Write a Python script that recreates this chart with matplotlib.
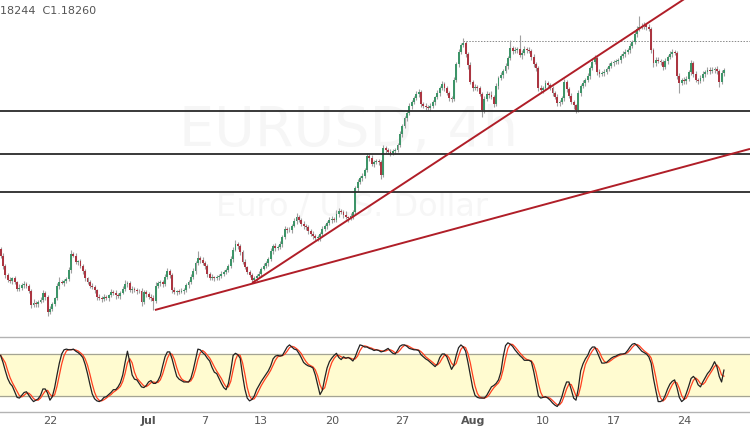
import numpy as np
import matplotlib
matplotlib.use('Agg')
import matplotlib.pyplot as plt
import pandas as pd

# ---- data (EURUSD 4h bars) ----
close = [
    1.1324, 1.1297, 1.1273, 1.1259, 1.1256, 1.1264, 1.1254, 1.1235, 1.1237, 1.1246, 1.1248, 1.1243,
    1.1229, 1.1192, 1.1197, 1.1194, 1.1200, 1.1205, 1.1224, 1.1213, 1.1173, 1.1181, 1.1194, 1.1210,
    1.1243, 1.1254, 1.1252, 1.1256, 1.1262, 1.1286, 1.1329, 1.1324, 1.1308, 1.1310, 1.1297, 1.1283,
    1.1264, 1.1254, 1.1243, 1.1240, 1.1232, 1.1213, 1.1210, 1.1208, 1.1213, 1.1210, 1.1218, 1.1227,
    1.1224, 1.1218, 1.1216, 1.1224, 1.1235, 1.1248, 1.1251, 1.1232, 1.1235, 1.1232, 1.1229, 1.1229,
    1.1200, 1.1227, 1.1221, 1.1213, 1.1210, 1.1202, 1.1243, 1.1251, 1.1254, 1.1248, 1.1267, 1.1283,
    1.1273, 1.1232, 1.1227, 1.1229, 1.1227, 1.1229, 1.1232, 1.1246, 1.1254, 1.1267, 1.1283, 1.1305,
    1.1318, 1.1313, 1.1305, 1.1297, 1.1275, 1.1264, 1.1267, 1.1264, 1.1267, 1.1270, 1.1275, 1.1281,
    1.1286, 1.1297, 1.1316, 1.1340, 1.1356, 1.1351, 1.1335, 1.1308, 1.1294, 1.1281, 1.1273, 1.1259,
    1.1264, 1.1270, 1.1275, 1.1289, 1.1297, 1.1305, 1.1316, 1.1337, 1.1351, 1.1345, 1.1348, 1.1356,
    1.1375, 1.1397, 1.1395, 1.1394, 1.1405, 1.1418, 1.1429, 1.1421, 1.1410, 1.1405, 1.1402, 1.1391,
    1.1383, 1.1378, 1.1372, 1.1375, 1.1383, 1.1397, 1.1405, 1.1413, 1.1421, 1.1424, 1.1421, 1.1437,
    1.1445, 1.1443, 1.1435, 1.1429, 1.1426, 1.1432, 1.1443, 1.1507, 1.1524, 1.1534, 1.1540, 1.1556,
    1.1594, 1.1588, 1.1572, 1.1578, 1.1580, 1.1578, 1.1543, 1.1615, 1.1610, 1.1605, 1.1602, 1.1607,
    1.1610, 1.1623, 1.1653, 1.1675, 1.1696, 1.1710, 1.1729, 1.1740, 1.1750, 1.1761, 1.1767, 1.1734,
    1.1729, 1.1726, 1.1723, 1.1729, 1.1740, 1.1753, 1.1764, 1.1777, 1.1788, 1.1777, 1.1764, 1.1750,
    1.1748, 1.1799, 1.1842, 1.1875, 1.1893, 1.1899, 1.1869, 1.1839, 1.1794, 1.1777, 1.1780, 1.1777,
    1.1761, 1.1718, 1.1748, 1.1761, 1.1758, 1.1753, 1.1734, 1.1783, 1.1804, 1.1812, 1.1823, 1.1837,
    1.1858, 1.1885, 1.1877, 1.1880, 1.1883, 1.1866, 1.1872, 1.1883, 1.1880, 1.1877, 1.1861, 1.1842,
    1.1831, 1.1777, 1.1772, 1.1777, 1.1791, 1.1785, 1.1777, 1.1764, 1.1753, 1.1737, 1.1740, 1.1750,
    1.1794, 1.1775, 1.1756, 1.1740, 1.1731, 1.1718, 1.1764, 1.1783, 1.1791, 1.1799, 1.1810, 1.1831,
    1.1848, 1.1858, 1.1821, 1.1815, 1.1818, 1.1821, 1.1829, 1.1837, 1.1845, 1.1848, 1.1850, 1.1853,
    1.1864, 1.1869, 1.1875, 1.1880, 1.1891, 1.1902, 1.1923, 1.1937, 1.1942, 1.1945, 1.1947, 1.1942,
    1.1937, 1.1880, 1.1845, 1.1853, 1.1850, 1.1848, 1.1834, 1.1850, 1.1861, 1.1869, 1.1875, 1.1872,
    1.1810, 1.1791, 1.1799, 1.1796, 1.1802, 1.1821, 1.1845, 1.1815, 1.1799, 1.1796, 1.1804, 1.1815,
    1.1821, 1.1826, 1.1823, 1.1826, 1.1829, 1.1823, 1.1794, 1.1818, 1.1826,
]
first_open = 1.1342

upper_wick_pips = [
    6, 8, 4, 5, 9, 4, 7, 3, 12, 5, 8, 6,
    4, 5, 10, 6, 4, 9, 7, 6, 5, 8, 6, 4,
    7, 12, 5, 6, 4, 8, 11, 6, 9, 4, 7, 5,
    6, 4, 5, 8, 6, 4, 7, 5, 9, 6, 4, 7,
    5, 8, 6, 4, 7, 10, 6, 5, 8, 4, 6, 5,
    9, 6, 4, 5, 7, 8, 10, 5, 6, 4, 8, 9,
    6, 5, 7, 4, 6, 8, 5, 6, 4, 7, 8, 6,
    19, 5, 7, 4, 6, 5, 8, 4, 6, 5, 7, 4,
    6, 5, 8, 7, 11, 6, 4, 5, 7, 4, 6, 5,
    6, 4, 8, 5, 7, 6, 4, 9, 6, 8, 5, 7,
    6, 9, 5, 7, 4, 8, 11, 6, 5, 7, 4, 6,
    5, 7, 4, 6, 5, 8, 6, 4, 7, 9, 5, 12,
    8, 6, 5, 9, 4, 7, 6, 5, 8, 6, 7, 5,
    8, 6, 9, 5, 7, 6, 4, 9, 6, 5, 7, 6,
    5, 6, 8, 5, 7, 6, 9, 5, 6, 7, 8, 5,
    6, 7, 5, 8, 6, 4, 7, 6, 9, 5, 6, 4,
    7, 8, 6, 9, 7, 13, 6, 5, 8, 6, 7, 5,
    6, 5, 9, 7, 6, 11, 5, 7, 6, 8, 5, 7,
    6, 22, 7, 9, 6, 38, 7, 8, 6, 9, 5, 7,
    6, 5, 8, 6, 9, 5, 7, 6, 5, 8, 6, 7,
    9, 6, 5, 7, 6, 4, 8, 6, 7, 5, 9, 6,
    7, 8, 6, 9, 5, 7, 6, 8, 5, 6, 7, 5,
    6, 8, 7, 5, 9, 6, 8, 7, 30, 9, 8, 6,
    7, 5, 6, 8, 7, 6, 5, 9, 6, 7, 8, 6,
    5, 7, 6, 8, 7, 6, 9, 5, 7, 6, 8, 7,
    6, 9, 7, 8, 6, 7, 5, 8, 6,
]
lower_wick_pips = [
    5, 7, 9, 6, 4, 8, 5, 7, 6, 4, 9, 5,
    6, 8, 5, 7, 9, 4, 6, 8, 11, 5, 7, 6,
    5, 7, 4, 8, 6, 5, 7, 4, 6, 9, 5, 7,
    8, 5, 6, 4, 7, 9, 5, 8, 6, 4, 7, 5,
    6, 9, 5, 7, 4, 6, 8, 5, 7, 6, 9, 5,
    10, 5, 7, 6, 8, 24, 6, 5, 7, 9, 4, 6,
    8, 7, 5, 9, 6, 4, 7, 5, 8, 6, 5, 7,
    6, 8, 5, 7, 9, 6, 4, 8, 5, 7, 6, 5,
    7, 5, 6, 8, 4, 7, 9, 6, 5, 7, 6, 8,
    5, 7, 6, 9, 4, 6, 8, 5, 7, 9, 6, 5,
    7, 5, 8, 6, 9, 4, 7, 6, 5, 8, 7, 9,
    6, 8, 5, 7, 12, 6, 5, 8, 6, 7, 5, 6,
    7, 5, 9, 6, 10, 5, 8, 6, 7, 5, 9, 6,
    5, 7, 6, 8, 5, 9, 10, 6, 7, 5, 8, 6,
    7, 5, 6, 8, 5, 7, 6, 9, 5, 6, 7, 8,
    6, 9, 5, 7, 6, 8, 5, 7, 6, 9, 5, 7,
    8, 6, 5, 7, 6, 5, 8, 9, 6, 7, 5, 8,
    6, 19, 7, 5, 8, 6, 9, 5, 7, 6, 8, 5,
    7, 6, 8, 5, 7, 6, 9, 5, 7, 6, 8, 9,
    7, 8, 6, 9, 5, 7, 6, 8, 5, 7, 9, 6,
    7, 8, 6, 5, 9, 8, 6, 7, 5, 8, 6, 7,
    6, 5, 9, 7, 6, 8, 5, 7, 6, 9, 5, 7,
    8, 6, 7, 5, 9, 6, 7, 8, 5, 6, 7, 9,
    6, 8, 12, 7, 6, 9, 8, 5, 7, 6, 8, 5,
    9, 27, 6, 8, 7, 5, 9, 8, 6, 7, 5, 8,
    7, 6, 8, 5, 7, 9, 13, 6, 8,
]

stoch_k = [
    78, 68, 56, 45, 38, 34, 26, 18, 17, 21, 25, 26,
    21, 16, 12, 14, 16, 21, 30, 30, 24, 14, 19, 32,
    50, 67, 80, 86, 87, 86, 86, 87, 84, 82, 79, 75,
    65, 52, 37, 23, 16, 13, 12, 14, 18, 19, 22, 25,
    29, 29, 33, 39, 50, 68, 84, 68, 50, 44, 43, 38,
    33, 32, 35, 40, 42, 38, 38, 42, 49, 63, 76, 83,
    83, 73, 60, 48, 44, 42, 40, 40, 40, 45, 57, 72,
    87, 86, 82, 79, 74, 70, 61, 54, 52, 45, 38, 32,
    29, 38, 56, 78, 81, 79, 74, 50, 30, 17, 13, 15,
    20, 29, 35, 41, 46, 51, 56, 63, 73, 77, 78, 77,
    78, 84, 90, 93, 90, 87, 86, 81, 75, 68, 65, 63,
    62, 60, 50, 36, 22, 28, 45, 60, 69, 74, 78, 81,
    75, 72, 76, 74, 75, 73, 70, 76, 85, 93, 92, 90,
    90, 88, 87, 85, 86, 85, 83, 84, 86, 88, 84, 81,
    80, 85, 91, 93, 93, 91, 88, 87, 86, 86, 85, 79,
    76, 73, 71, 68, 65, 62, 66, 75, 80, 80, 76, 67,
    58, 64, 78, 89, 93, 90, 84, 68, 50, 32, 21, 18,
    17, 17, 17, 21, 27, 33, 35, 38, 43, 54, 76, 92,
    96, 94, 91, 86, 82, 78, 75, 71, 71, 71, 69, 55,
    38, 20, 17, 18, 19, 17, 14, 10, 7, 5, 10, 19,
    31, 40, 40, 29, 17, 14, 31, 56, 66, 73, 78, 86,
    90, 90, 83, 75, 67, 67, 68, 71, 74, 76, 77, 79,
    80, 80, 81, 85, 90, 94, 95, 92, 88, 84, 82, 80,
    76, 67, 45, 28, 12, 12, 14, 21, 30, 37, 41, 43,
    32, 18, 12, 15, 24, 34, 45, 48, 44, 36, 33, 40,
    46, 52, 56, 62, 69, 62, 48, 40, 57,
]

h_levels = [1.1715, 1.1599, 1.1497]
dotted_level = 1.1904
dotted_start_bar = 197
trend_gentle = ([65.7, 319.1], [1.1178, 1.1613])
trend_steep = ([107.1, 293.6], [1.1251, 1.2028])
tick_bars = [21, 63, 87, 111, 141, 171, 201, 231, 261, 291]
tick_labels = ['22', 'Jul', '7', '13', '20', '27', 'Aug', '10', '17', '24']
stoch_upper, stoch_lower = 80, 20

# ---- build ----
c = np.array(close)
o = np.r_[first_open, c[:-1]]
hi = np.maximum(o, c) + np.array(upper_wick_pips) / 1e4
lo = np.minimum(o, c) - np.array(lower_wick_pips) / 1e4
x = np.arange(len(c))
up = c >= o

W, H = 750, 430
fig = plt.figure(figsize=(7.5, 4.3), dpi=100)
ax = fig.add_axes([0, 93 / H, 1, 337 / H])
ax2 = fig.add_axes([0, 18 / H, 1, 75 / H])

xlim = (-0.27, 319.1)
for a in (ax, ax2):
    a.set_xlim(*xlim)
    a.set_facecolor('white')

ax.set_ylim(1.11051, 1.2015)
for s in ax.spines.values():
    s.set_visible(False)
ax.set_xticks([])
ax.set_yticks([])

# watermark
ax.text(0.465, 0.612, 'EURUSD, 4h', transform=ax.transAxes, fontsize=40,
        color='#f6f6f6', ha='center', va='center', zorder=0)
ax.text(0.47, 0.385, 'Euro / U.S. Dollar', transform=ax.transAxes, fontsize=23,
        color='#f6f6f6', ha='center', va='center', zorder=0)

# candles
green, red = '#3d9468', '#ab3541'
ax.vlines(x, lo, hi, color='#a0a0a0', lw=0.8, zorder=2)
body = np.maximum(np.abs(c - o), 0.00009)
ax.bar(x, body, bottom=np.minimum(o, c), width=0.8,
       color=np.where(up, green, red), linewidth=0, zorder=3)

# levels and trendlines
for lvl in h_levels:
    ax.axhline(lvl, color='#2a2a2a', lw=1.3, zorder=4)
ax.plot([dotted_start_bar, xlim[1]], [dotted_level, dotted_level], color='#8a8a8a',
        lw=0.7, ls=(0, (1.5, 1.5)), zorder=1)
ax.plot(*trend_gentle, color='#b01e28', lw=1.4, zorder=5, solid_capstyle='butt')
ax.plot(*trend_steep, color='#b01e28', lw=1.4, zorder=5, solid_capstyle='butt')

# header legend
fig.text(0.0, 1 - 11 / H, '18244  C1.18260', fontsize=8, color='#555555',
         ha='left', va='center')

# stochastic panel
k = pd.Series(stoch_k, dtype=float)
d = k.rolling(3, min_periods=1).mean()
ax2.set_ylim(-2.9, 104.3)
ax2.axhspan(stoch_lower, stoch_upper, color='#fffbd0', zorder=0)
ax2.axhline(stoch_upper, color='#a4a494', lw=0.9, zorder=1)
ax2.axhline(stoch_lower, color='#a4a494', lw=0.9, zorder=1)
ax2.plot(x, d, color='#ff4020', lw=0.9, zorder=3)
ax2.plot(x, k, color='#222222', lw=0.9, zorder=4)
for side in ('left', 'right'):
    ax2.spines[side].set_visible(False)
for side in ('top', 'bottom'):
    ax2.spines[side].set_color('#b3b3b3')
    ax2.spines[side].set_linewidth(1.0)
ax2.set_yticks([])
ax2.set_xticks(tick_bars)
ax2.set_xticklabels(tick_labels, fontsize=8, color='#555555')
for lab in ax2.get_xticklabels():
    if lab.get_text() in ('Jul', 'Aug'):
        lab.set_fontweight('bold')
ax2.tick_params(axis='x', length=0, pad=3)

fig.savefig('out.png', dpi=100)
